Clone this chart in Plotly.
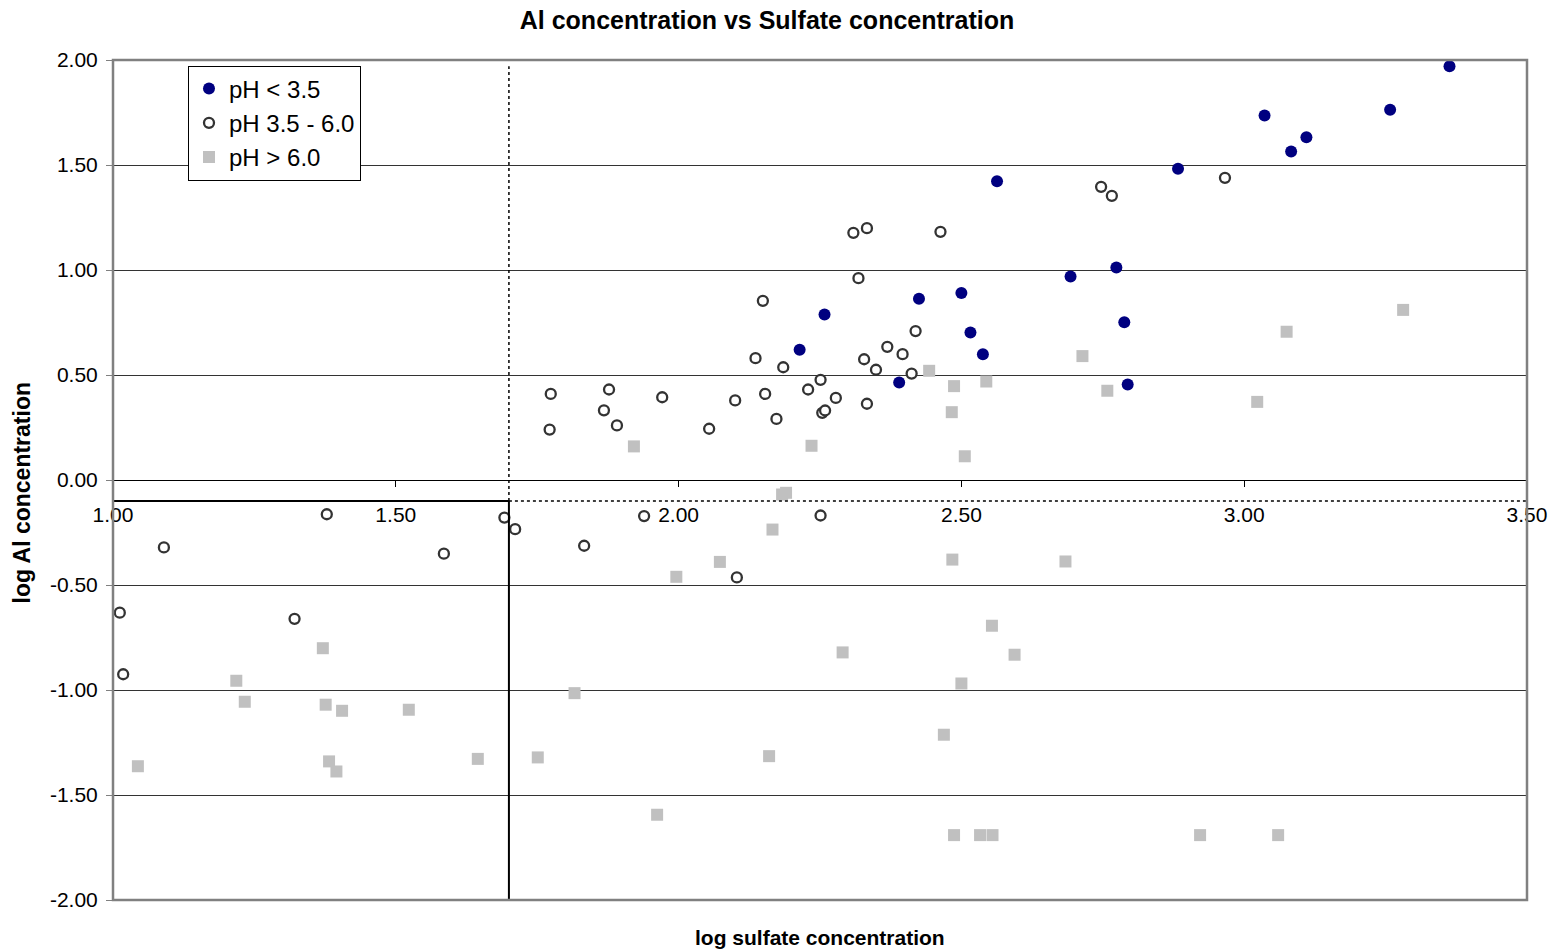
import plotly.graph_objects as go

# ---- data (log sulfate concentration, log Al concentration) ----
ph_low_x = [2.214, 2.258, 2.390, 2.425, 2.500, 2.516, 2.538, 2.563, 2.693, 2.774,
            2.788, 2.794, 2.883, 3.036, 3.083, 3.110, 3.258, 3.363]
ph_low_y = [0.620, 0.788, 0.464, 0.863, 0.890, 0.702, 0.599, 1.423, 0.969, 1.012,
            0.751, 0.455, 1.482, 1.736, 1.564, 1.632, 1.763, 1.970]

ph_mid_x = [2.309, 2.333, 2.463, 2.318, 2.149, 2.419, 2.369, 2.136, 2.396, 2.185,
            2.328, 2.349, 2.412, 2.251, 2.229, 2.153, 2.278, 2.333, 1.774, 1.877,
            1.868, 1.891, 1.971, 2.100, 1.772, 2.054, 2.173, 2.254, 2.259, 2.747,
            2.766, 2.966,
            1.378, 1.090, 1.585, 1.012, 1.321, 1.018, 1.692, 1.711, 1.833, 1.939,
            2.251, 2.103]
ph_mid_y = [1.177, 1.199, 1.182, 0.961, 0.853, 0.709, 0.634, 0.580, 0.599, 0.537,
            0.575, 0.525, 0.507, 0.477, 0.431, 0.410, 0.391, 0.363, 0.410, 0.431,
            0.332, 0.260, 0.394, 0.379, 0.240, 0.244, 0.291, 0.320, 0.331, 1.396,
            1.353, 1.439,
            -0.163, -0.321, -0.351, -0.632, -0.661, -0.925, -0.179, -0.234, -0.313, -0.172,
            -0.169, -0.464]

ph_high_x = [2.443, 2.487, 2.544, 2.483, 2.506, 1.921, 2.235, 3.281, 3.075, 2.714,
             2.758, 3.023,
             2.183, 2.190, 2.166, 2.073, 1.996, 2.484, 2.554, 2.290, 2.594, 2.500,
             1.816, 2.469, 1.751, 2.160, 1.962, 2.487, 2.533, 2.555, 2.684, 2.922,
             3.060, 1.371, 1.218, 1.233, 1.376, 1.405, 1.523, 1.044, 1.382, 1.395,
             1.645]
ph_high_y = [0.520, 0.447, 0.469, 0.323, 0.113, 0.160, 0.163, 0.810, 0.706, 0.590,
             0.425, 0.372,
             -0.069, -0.061, -0.236, -0.390, -0.461, -0.379, -0.694, -0.821, -0.832, -0.969,
             -1.015, -1.213, -1.321, -1.315, -1.594, -1.691, -1.691, -1.691, -0.388, -1.691,
             -1.691, -0.801, -0.956, -1.056, -1.070, -1.099, -1.094, -1.363, -1.340, -1.388,
             -1.328]

series_names = ["pH < 3.5", "pH 3.5 - 6.0", "pH > 6.0"]

x_tick_vals = [1.0, 1.5, 2.0, 2.5, 3.0, 3.5]
x_tick_text = ["1.00", "1.50", "2.00", "2.50", "3.00", "3.50"]
y_tick_vals = [-2.0, -1.5, -1.0, -0.5, 0.0, 0.5, 1.0, 1.5, 2.0]
y_tick_text = ["-2.00", "-1.50", "-1.00", "-0.50", "0.00", "0.50", "1.00", "1.50", "2.00"]

sulfate_threshold = 1.70
al_threshold = -0.10

FONT = "Arial, Liberation Sans, sans-serif"

W, H = 1558, 951

fig = go.Figure()
fig.add_trace(go.Scatter(
    x=ph_low_x, y=ph_low_y, mode="markers", name=series_names[0],
    marker=dict(symbol="circle", size=12, color="#000080", line=dict(width=0)),
))
fig.add_trace(go.Scatter(
    x=ph_mid_x, y=ph_mid_y, mode="markers", name=series_names[1],
    marker=dict(symbol="circle", size=10, color="white", line=dict(width=2.3, color="#333333")),
))
fig.add_trace(go.Scatter(
    x=ph_high_x, y=ph_high_y, mode="markers", name=series_names[2],
    marker=dict(symbol="square", size=12, color="#C0C0C0", line=dict(width=0)),
))

# threshold lines
shapes = [
    dict(type="line", xref="x", yref="y", x0=sulfate_threshold, x1=sulfate_threshold,
         y0=al_threshold, y1=1.97, line=dict(color="black", width=1.5, dash="dot")),
    dict(type="line", xref="x", yref="y", x0=sulfate_threshold, x1=sulfate_threshold,
         y0=-2.0, y1=al_threshold, line=dict(color="black", width=2)),
    dict(type="line", xref="x", yref="y", x0=sulfate_threshold, x1=3.5,
         y0=al_threshold, y1=al_threshold, line=dict(color="black", width=1.5, dash="dot")),
    dict(type="line", xref="x", yref="y", x0=1.0, x1=sulfate_threshold,
         y0=al_threshold, y1=al_threshold, line=dict(color="black", width=2)),
    # plot-area border
    dict(type="rect", xref="paper", yref="paper", x0=0, x1=1, y0=0, y1=1,
         line=dict(color="#808080", width=2.5), layer="above"),
]

fig.update_layout(
    width=W, height=H,
    margin=dict(l=113, r=31, t=60, b=51, pad=0),
    paper_bgcolor="white", plot_bgcolor="white",
    font=dict(family=FONT, color="black", size=21),
    title=dict(text="<b>Al concentration vs Sulfate concentration</b>",
               x=767 / W, xanchor="center", y=1 - 20 / H, yanchor="middle",
               font=dict(family=FONT, size=25, color="black")),
    showlegend=True,
    legend=dict(x=(188 - 113) / 1414, y=(899.5 - 65) / 840, xanchor="left", yanchor="top",
                bgcolor="white", bordercolor="black", borderwidth=1,
                font=dict(family=FONT, size=24, color="black"),
                itemwidth=30, tracegroupgap=0),
    shapes=shapes,
    xaxis=dict(range=[1.0, 3.5], tickvals=x_tick_vals, ticktext=x_tick_text,
               showgrid=False, zeroline=False, showline=True, linecolor="black", linewidth=1,
               anchor="free", position=0.5, side="bottom",
               ticks="outside", ticklen=6, tickcolor="black", tickwidth=1,
               ticklabelstandoff=10,
               tickfont=dict(family=FONT, size=21, color="black")),
    yaxis=dict(range=[-2.0, 2.0], tickvals=y_tick_vals, ticktext=y_tick_text,
               showgrid=True, gridcolor="#333333", gridwidth=1, zeroline=False,
               showline=False, ticks="outside", ticklen=6, tickcolor="#808080", tickwidth=1,
               ticklabelstandoff=4,
               tickfont=dict(family=FONT, size=21, color="black")),
    annotations=[
        dict(text="<b>log sulfate concentration</b>", xref="paper", yref="paper",
             x=0.5, y=(899.5 - 937) / 840, xanchor="center", yanchor="middle",
             showarrow=False, font=dict(family=FONT, size=21, color="black")),
        dict(text="<b>log Al concentration</b>", xref="paper", yref="paper",
             x=(22 - 113) / 1414, y=(899.5 - 492) / 840, xanchor="center", yanchor="middle",
             textangle=-90, showarrow=False, font=dict(family=FONT, size=23, color="black")),
    ],
)

fig.write_html("out.html",
               config={"displayModeBar": False},
               post_script="document.body.style.margin='0';document.body.style.padding='0';")
